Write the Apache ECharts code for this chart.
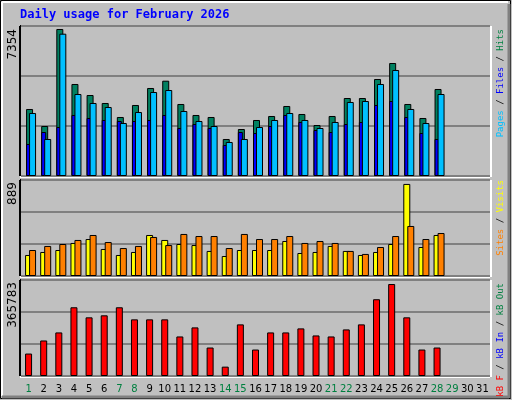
<!DOCTYPE html>
<html><head><meta charset="utf-8">
<script src="https://cdn.jsdelivr.net/npm/echarts@6/dist/echarts.min.js"></script>
<style>html,body{margin:0;padding:0;background:#c0c0c0}#c{width:512px;height:400px}</style>
</head><body><div id="c"></div>
<script>
// values
const days = Array.from({ length: 31 }, (_, i) => String(i + 1));
const weekendDays = [1, 7, 8, 14, 15, 21, 22, 28, 29];
const hits = [3352,2501,7354,4603,4052,3652,2952,3552,4403,4768,3602,3052,2952,1851,2351,2802,3002,3502,3102,2551,3002,3902,3902,4853,5653,3602,2902,4353];
const files = [3152,1851,7119,4102,3652,3452,2652,3202,4202,4302,3252,2752,2501,1701,1851,2451,2802,3152,2802,2401,2702,3702,3752,4603,5303,3352,2652,4102];
const pages = [1601,2201,2451,3052,2902,2802,2752,2752,2802,3052,2401,2601,2401,1551,2201,2151,2501,3052,2702,2301,2201,2601,2702,3552,3752,2952,2151,1851];
const visits = [203,232,251,319,357,261,203,232,396,348,309,299,242,193,251,251,251,338,222,232,290,242,203,232,309,889,280,396];
const sites = [251,290,309,348,396,328,270,290,377,299,406,386,386,270,406,357,357,386,319,338,319,242,213,280,386,483,357,415];
const kbytes = [89245,141271,173287,273337,233317,241321,273337,225313,225313,225313,157279,193297,113257,37219,205303,105255,173287,173287,189295,161281,157279,185293,205303,305353,365783,233317,105255,113257];

const L = 21, R = 22;
const panels = [[26, 224], [180, 124], [280, 24]]; // top, bottom offsets

const chart = echarts.init(document.getElementById('c'));
const bar = (name, data, color, xi, yi, w) => ({
  name, type: 'bar', data, xAxisIndex: xi, yAxisIndex: yi, barWidth: w, barGap: '-100%',
  itemStyle: { color, borderColor: '#000', borderWidth: 1 }, animation: false
});
const xa = (gi, show) => ({
  type: 'category', data: days, gridIndex: gi,
  axisLine: { show: false }, axisTick: { show: false },
  axisLabel: show ? {
    show: true, interval: 0, margin: 8, fontFamily: 'DejaVu Sans', fontSize: 10,
    formatter: v => weekendDays.includes(+v) ? '{w|' + v + '}' : '{n|' + v + '}',
    rich: { w: { color: '#008040', fontSize: 10, fontFamily: 'DejaVu Sans' }, n: { color: '#000', fontSize: 10, fontFamily: 'DejaVu Sans' } }
  } : { show: false }
});
const ya = (gi, max, interval, grid) => ({
  type: 'value', gridIndex: gi, min: 0, max, interval,
  axisLabel: { show: false }, axisLine: { show: false }, axisTick: { show: false },
  splitLine: { show: grid, lineStyle: { color: '#808080', width: 2 } }
});

const frame = [];
panels.forEach(([t, b]) => {
  const bot = 400 - b;
  frame.push(
    { type: 'line', shape: { x1: L - 1, y1: t, x2: 512 - R, y2: t }, style: { stroke: '#000', lineWidth: 2 } },
    { type: 'line', shape: { x1: L - 1, y1: t, x2: L - 1, y2: bot }, style: { stroke: '#000', lineWidth: 2 } },
    { type: 'line', shape: { x1: L - 1, y1: bot + 1, x2: 512 - R, y2: bot + 1 }, style: { stroke: '#fff', lineWidth: 2 } },
    { type: 'line', shape: { x1: 512 - R + 1, y1: t, x2: 512 - R + 1, y2: bot + 1 }, style: { stroke: '#fff', lineWidth: 2 } }
  );
});
const vlabel = (text, y) => ({
  type: 'text', x: 13, y, rotation: Math.PI / 2,
  style: { text, align: 'right', verticalAlign: 'middle', fontFamily: 'DejaVu Sans', fontSize: 12, fill: '#000' }
});
const legend = (parts, y) => ({
  type: 'text', x: 501, y, rotation: Math.PI / 2,
  style: {
    text: parts.map((p, i) => '{c' + i + '|' + p[0] + '}').join(''),
    rich: Object.fromEntries(parts.map((p, i) => ['c' + i, { fill: p[1], fontFamily: 'DejaVu Sans Mono', fontSize: 9 }])),
    align: 'right', verticalAlign: 'middle'
  }
});

chart.setOption({
  backgroundColor: '#c0c0c0',
  grid: [
    { left: L, right: R, top: 26, bottom: 224 },
    { left: L + 4, right: R - 4, top: 26, bottom: 224 },
    { left: L, right: R, top: 180, bottom: 124 },
    { left: L + 4, right: R - 4, top: 180, bottom: 124 },
    { left: L, right: R, top: 280, bottom: 24 }
  ],
  xAxis: [xa(0, false), xa(1, false), xa(2, false), xa(3, false), xa(4, true)],
  yAxis: [ya(0, 7504, 2501, true), ya(1, 7504, 2501, false), ya(2, 927, 309, true), ya(3, 927, 309, false), ya(4, 381801, 127267, true)],
  series: [
    bar('Hits', hits, '#008060', 0, 0, 7),
    bar('Pages', pages, '#0000ff', 0, 0, 5),
    bar('Files', files, '#00c0ff', 1, 1, 7),
    bar('Visits', visits, '#ffff00', 2, 2, 7),
    bar('Sites', sites, '#ff8000', 3, 3, 7),
    bar('kB F', kbytes, '#ff0000', 4, 4, 7)
  ],
  graphic: [
    { type: 'rect', shape: { x: 0.5, y: 0.5, width: 510, height: 398 }, style: { fill: 'none', stroke: '#000', lineWidth: 1 } },
    { type: 'line', shape: { x1: 2, y1: 2, x2: 508, y2: 2 }, style: { stroke: '#fff', lineWidth: 2 } },
    { type: 'line', shape: { x1: 2, y1: 2, x2: 2, y2: 396 }, style: { stroke: '#fff', lineWidth: 2 } },
    { type: 'line', shape: { x1: 509, y1: 4, x2: 509, y2: 398 }, style: { stroke: '#808080', lineWidth: 3 } },
    { type: 'line', shape: { x1: 2, y1: 397, x2: 509, y2: 397 }, style: { stroke: '#808080', lineWidth: 3 } },
    { type: 'text', x: 20, y: 9, style: { text: 'Daily usage for February 2026', fontFamily: 'DejaVu Sans Mono', fontWeight: 'bold', fontSize: 12, fill: '#0000ff' } },
    ...frame,
    vlabel('7354', 29), vlabel('889', 182), vlabel('365783', 282),
    legend([['Pages', '#00c0ff'], [' / ', '#000'], ['Files', '#0000ff'], [' / ', '#000'], ['Hits', '#008040']], 29),
    legend([['Sites', '#ff8000'], [' / ', '#000'], ['Visits', '#ffff00']], 180),
    legend([['kB F', '#ff0000'], [' / ', '#000'], ['kB In', '#0000ff'], [' / ', '#000'], ['kB Out', '#008040']], 283)
  ]
});
</script></body></html>
